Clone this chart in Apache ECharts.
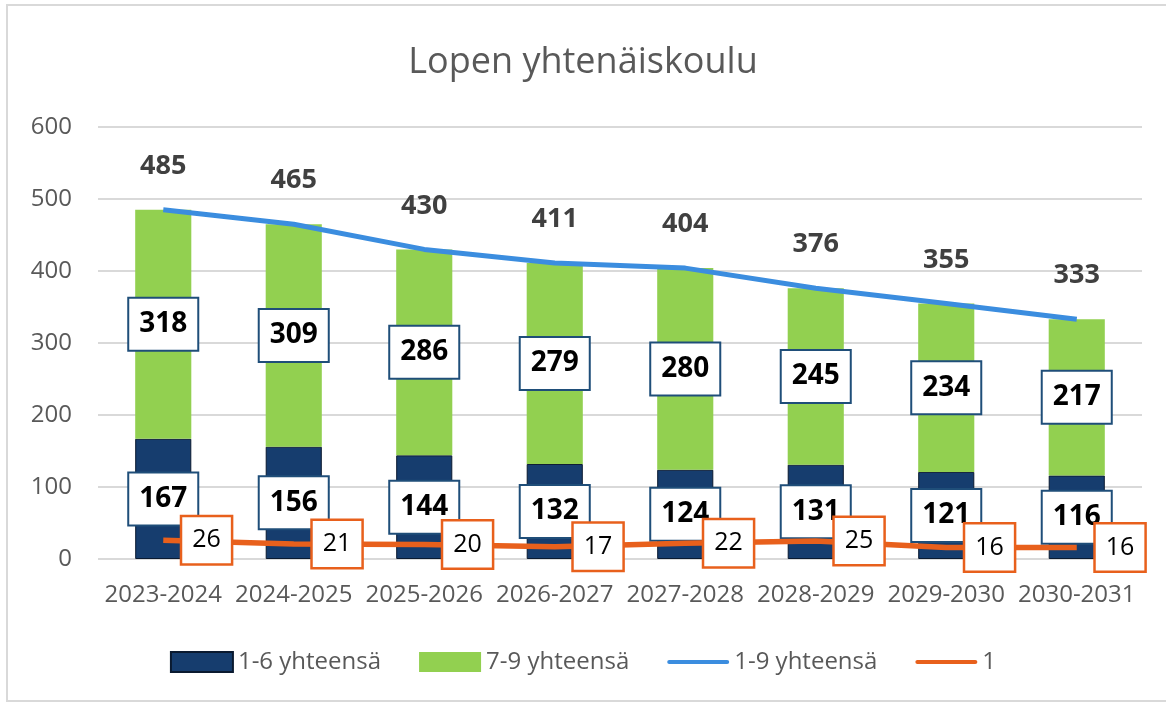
<!DOCTYPE html>
<html><head><meta charset="utf-8">
<script src="https://cdn.jsdelivr.net/npm/echarts@6/dist/echarts.min.js"></script>
<style>
html,body{margin:0;padding:0;background:#fff;}
#frame{position:absolute;left:6px;top:4px;width:1166px;height:698px;border:2px solid #d9d9d9;box-sizing:border-box;}
#chart{position:absolute;left:0;top:0;width:1166px;height:707px;}
</style></head>
<body>
<div id="frame"></div>
<div id="chart"></div>
<script>
const categories = ['2023-2024','2024-2025','2025-2026','2026-2027','2027-2028','2028-2029','2029-2030','2030-2031'];
const grades1to6 = [167,156,144,132,124,131,121,116];
const grades7to9 = [318,309,286,279,280,245,234,217];
const grades1to9 = [485,465,430,411,404,376,355,333];
const grade1 = [26,21,20,17,22,25,16,16];
const yTicks = {min:0, max:600, interval:100};

const FONT = '"Open Sans","Noto Sans",sans-serif';
const boxLabel = {
  show:true, position:'inside', color:'#000', fontWeight:'bold', fontSize:28, fontFamily:FONT,
  backgroundColor:'#fff', borderColor:'#1f4e79', borderWidth:2, padding:[13,10,10,10]
};
const lineIcon = 'path://M2,0 L58,0 A2,2 0 0 1 58,4 L2,4 A2,2 0 0 1 2,0 Z';
const chart = echarts.init(document.getElementById('chart'));
chart.setOption({
  animation:false,
  title:{text:'Lopen yhtenäiskoulu', left:'center', top:40,
    textStyle:{fontFamily:FONT, fontWeight:'normal', fontSize:36, color:'#595959'}},
  grid:{left:98, right:24, top:127, bottom:148},
  legend:{
    bottom:28, left:'center', itemWidth:62, itemHeight:20, itemGap:38,
    textStyle:{fontFamily:FONT, fontSize:24, color:'#595959'},
    data:[
      {name:'1-6 yhteensä', icon:'rect'},
      {name:'7-9 yhteensä', icon:'rect'},
      {name:'1-9 yhteensä', icon:lineIcon},
      {name:'1', icon:lineIcon}
    ]
  },
  xAxis:{type:'category', data:categories,
    axisLine:{show:false}, axisTick:{show:false},
    axisLabel:{fontFamily:FONT, fontSize:24, color:'#595959', margin:24, interval:0}},
  yAxis:{type:'value', min:yTicks.min, max:yTicks.max, interval:yTicks.interval,
    axisLabel:{fontFamily:FONT, fontSize:24, color:'#595959', margin:26},
    splitLine:{lineStyle:{color:'#d9d9d9', width:2}}},
  series:[
    {name:'1-6 yhteensä', type:'bar', stack:'a', data:grades1to6, barWidth:'43%',
      itemStyle:{color:'#163d6e', borderColor:'#0a1a30', borderWidth:1},
      label:boxLabel, z:2},
    {name:'7-9 yhteensä', type:'bar', stack:'a', data:grades7to9, barWidth:'43%',
      itemStyle:{color:'#92d050'},
      label:boxLabel, z:2},
    {name:'1-9 yhteensä', type:'line', data:grades1to9, symbol:'circle', symbolSize:0.01, showSymbol:true, z:5,
      lineStyle:{color:'#3b8ddf', width:5}, itemStyle:{color:'#3b8ddf'},
      label:{show:true, position:'top', distance:30, color:'#404040', fontWeight:'bold', fontSize:27, fontFamily:FONT}},
    {name:'1', type:'line', data:grade1, symbol:'circle', symbolSize:0.01, showSymbol:true, z:6,
      lineStyle:{color:'#e8601c', width:5.5}, itemStyle:{color:'#e8601c'},
      label:{show:true, position:'right', distance:19, color:'#000', fontSize:25, fontFamily:FONT,
        backgroundColor:'#fff', borderColor:'#e8601c', borderWidth:2.5, padding:[12,10,9,10]}}
  ]
});
</script>
</body></html>
